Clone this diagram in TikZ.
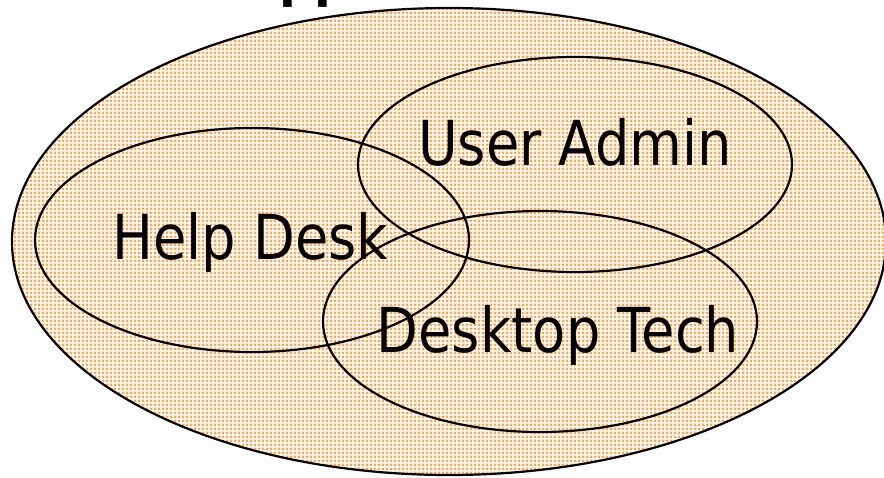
\documentclass[tikz,border=0pt]{standalone}
\usepackage{fontspec}
\usetikzlibrary{shapes.geometric,patterns}
\newfontfamily\labelfont[FakeStretch=0.875]{DejaVu Sans}
\newfontfamily\titlefont[FakeStretch=0.79]{DejaVu Sans Bold}
\definecolor{dotorange}{RGB}{253,166,82}

% square-dot texture used inside the outer region
\pgfdeclarepatternformonly{sqdots}{\pgfpointorigin}{\pgfpoint{3.5pt}{3.5pt}}{\pgfpoint{3.5pt}{3.5pt}}{%
  \pgfpathrectangle{\pgfpointorigin}{\pgfpoint{2.6pt}{2.6pt}}\pgfusepath{fill}}

\tikzset{
  region/.style={ellipse, draw=black, line width=2.2pt, inner sep=0pt},
  label/.style={font=\labelfont\fontsize{62}{70}\selectfont, inner sep=0pt, anchor=base, text=black},
  titletext/.style={font=\titlefont\fontsize{62}{70}\selectfont, inner sep=0pt, anchor=base, text=black}
}

\begin{document}
\begin{tikzpicture}[x=1pt, y=-1pt]
  \useasboundingbox (0,0) rectangle (884,477);
  \fill[white] (0,0) rectangle (884,477);

  % title, mostly above the visible area
  \node[titletext] (title) at (320,-6) {Support};

  % outer set
  \node[region, pattern=sqdots, pattern color=dotorange,
        minimum width=874pt, minimum height=467pt] (all) at (449,241.5) {};

  % three overlapping roles
  \node[region, minimum width=434pt, minimum height=224pt] (help) at (252,240) {};
  \node[region, minimum width=434pt, minimum height=215pt] (admin) at (575,164.5) {};
  \node[region, minimum width=434pt, minimum height=221pt] (tech) at (540,321.5) {};

  \node[label] (adminlbl) at (575,165) {User Admin};
  \node[label] (helplbl) at (250.5,259) {Help Desk};
  \node[label] (techlbl) at (558,352) {Desktop Tech};
\end{tikzpicture}
\end{document}
